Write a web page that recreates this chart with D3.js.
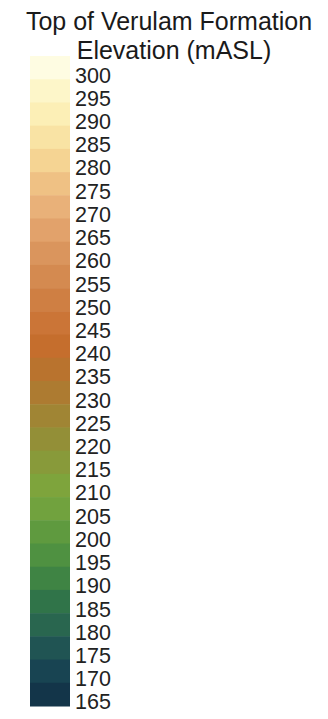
<!DOCTYPE html>
<html><head><meta charset="utf-8">
<script src="https://cdn.jsdelivr.net/npm/d3@7"></script>
<style>html,body{margin:0;padding:0;background:#fff;}svg{display:block;}</style>
</head><body>
<script>
const titleLines = ["Top of Verulam Formation", "Elevation (mASL)"];
const classValues = [300,295,290,285,280,275,270,265,260,255,250,245,240,235,230,225,220,215,210,205,200,195,190,185,180,175,170,165];
const classColors = ["#fefce2","#fdf6c9","#fcefb6","#f9e3a4","#f5d493","#efc184","#e9b179","#e2a26b","#da955d","#d48a50","#cf7f43","#cb7537","#c56e2d","#b9732e","#ad7b31","#a08534","#938f37","#889a3a","#7ea43c","#71a23e","#5f9a3f","#4f9141","#3f8444","#307449","#29664f","#205453","#184452","#133549"];

const W = 328, H = 719;
const svg = d3.select("body").append("svg").attr("width", W).attr("height", H);

const barX = 30, barW = 40;
const y = d3.scaleLinear().domain([305, 165]).range([56, 706]);
const step = 5;

svg.append("g").selectAll("rect").data(classValues).join("rect")
  .attr("x", barX).attr("width", barW)
  .attr("y", d => y(d + step))
  .attr("height", d => y(d) - y(d + step) + 0.5)
  .attr("fill", (d, i) => classColors[i]);

const axis = d3.axisRight(y).tickValues(classValues).tickSize(0).tickPadding(5).tickFormat(d3.format("d"));
const gA = svg.append("g").attr("transform", `translate(${barX + barW},-4)`).call(axis);
gA.select(".domain").remove();
gA.selectAll("text").attr("font-family", "Liberation Sans, Arial, sans-serif").attr("font-size", 21.5).attr("fill", "#222");

svg.append("g").selectAll("text").data(titleLines).join("text")
  .attr("x", (d, i) => i === 0 ? 169 : 174)
  .attr("y", (d, i) => 30 + i * 29)
  .attr("text-anchor", "middle")
  .attr("font-family", "Liberation Sans, Arial, sans-serif")
  .attr("font-size", 25)
  .attr("fill", "#1a1a1a")
  .text(d => d);
</script>
</body></html>
